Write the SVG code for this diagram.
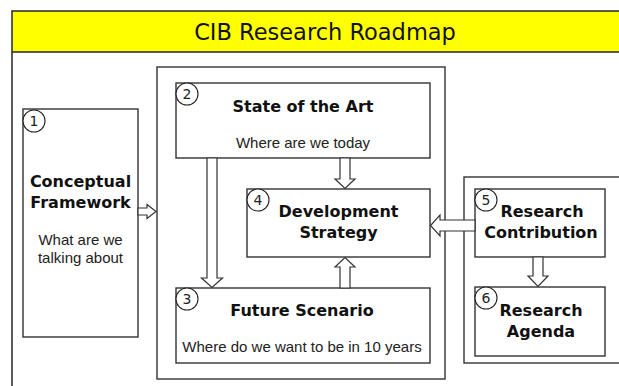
<svg xmlns="http://www.w3.org/2000/svg" width="619" height="386" viewBox="0 0 619 386">
<style>
.box{fill:#fff;stroke:#333;stroke-width:1.4}
.frame{fill:none;stroke:#333;stroke-width:1.4}
.arr{fill:#fff;stroke:#333;stroke-width:1.2;stroke-linejoin:miter}
.num{fill:#fff;stroke:#222;stroke-width:1.1}
.numt{font-family:"DejaVu Sans",sans-serif;font-size:14px;fill:#222;text-anchor:middle}
.b{font-family:"DejaVu Sans",sans-serif;font-weight:bold;font-size:16px;fill:#111;text-anchor:middle}
.r{font-family:"Liberation Sans",Arial,sans-serif;font-size:15px;fill:#222;text-anchor:middle}
.title{font-family:"DejaVu Sans",sans-serif;font-size:22.5px;fill:#111;text-anchor:middle}
</style>
<rect x="0" y="0" width="619" height="386" fill="#fff"/>
<g id="frame">
<rect x="12" y="11" width="620" height="41" fill="#ffff00" stroke="#333" stroke-width="1.6"/>
<line x1="12" y1="52" x2="12" y2="390" stroke="#333" stroke-width="1.6"/>
<text class="title" x="325" y="40">CIB Research Roadmap</text>
</g>
<g id="container-middle"><rect class="frame" x="157" y="67" width="288" height="312"/></g>
<g id="container-right"><rect class="frame" x="464" y="177" width="170" height="186"/></g>
<g id="node1">
<rect class="box" x="23" y="109" width="115" height="228"/>
<circle class="num" cx="34" cy="121" r="11"/><text class="numt" x="34" y="126">1</text>
<text class="b" x="80.5" y="187">Conceptual</text>
<text class="b" x="80.5" y="208">Framework</text>
<text class="r" x="80.5" y="245">What are we</text>
<text class="r" x="80.5" y="263">talking about</text>
</g>
<g id="node2">
<rect class="box" x="176" y="83" width="254" height="75"/>
<circle class="num" cx="187" cy="94" r="11"/><text class="numt" x="187" y="99">2</text>
<text class="b" x="303" y="112">State of the Art</text>
<text class="r" x="303" y="148">Where are we today</text>
</g>
<g id="node4">
<rect class="box" x="247" y="189" width="183" height="68"/>
<circle class="num" cx="258" cy="200" r="11"/><text class="numt" x="258" y="205">4</text>
<text class="b" x="338.5" y="217">Development</text>
<text class="b" x="338.5" y="238">Strategy</text>
</g>
<g id="node3">
<rect class="box" x="176" y="288" width="254" height="75"/>
<circle class="num" cx="187" cy="299" r="11"/><text class="numt" x="187" y="304">3</text>
<text class="b" x="302" y="316">Future Scenario</text>
<text class="r" x="302" y="352">Where do we want to be in 10 years</text>
</g>
<g id="node5">
<rect class="box" x="475" y="189" width="130" height="68"/>
<circle class="num" cx="486" cy="200" r="11"/><text class="numt" x="486" y="205">5</text>
<text class="b" x="542" y="217">Research</text>
<text class="b" x="541" y="238">Contribution</text>
</g>
<g id="node6">
<rect class="box" x="475" y="287" width="130" height="69"/>
<circle class="num" cx="486" cy="298" r="11"/><text class="numt" x="486" y="303">6</text>
<text class="b" x="541" y="316">Research</text>
<text class="b" x="541" y="337">Agenda</text>
</g>
<g id="connectors">
<polygon class="arr" points="138,208 147,208 147,204.5 156,211.5 147,218.5 147,215 138,215"/>
<polygon class="arr" points="207,158 217,158 217,278 222.5,278 212,287.5 201.5,278 207,278"/>
<polygon class="arr" points="340,158 350,158 350,179 355,179 345,188.5 335,179 340,179"/>
<polygon class="arr" points="340,288 350,288 350,267 355,267 345,257.5 335,267 340,267"/>
<polygon class="arr" points="475,220 440,220 440,215 430.5,225.5 440,236 440,231 475,231"/>
<polygon class="arr" points="533,257 543,257 543,276 548,276 538,286.5 528,276 533,276"/>
</g>
</svg>
